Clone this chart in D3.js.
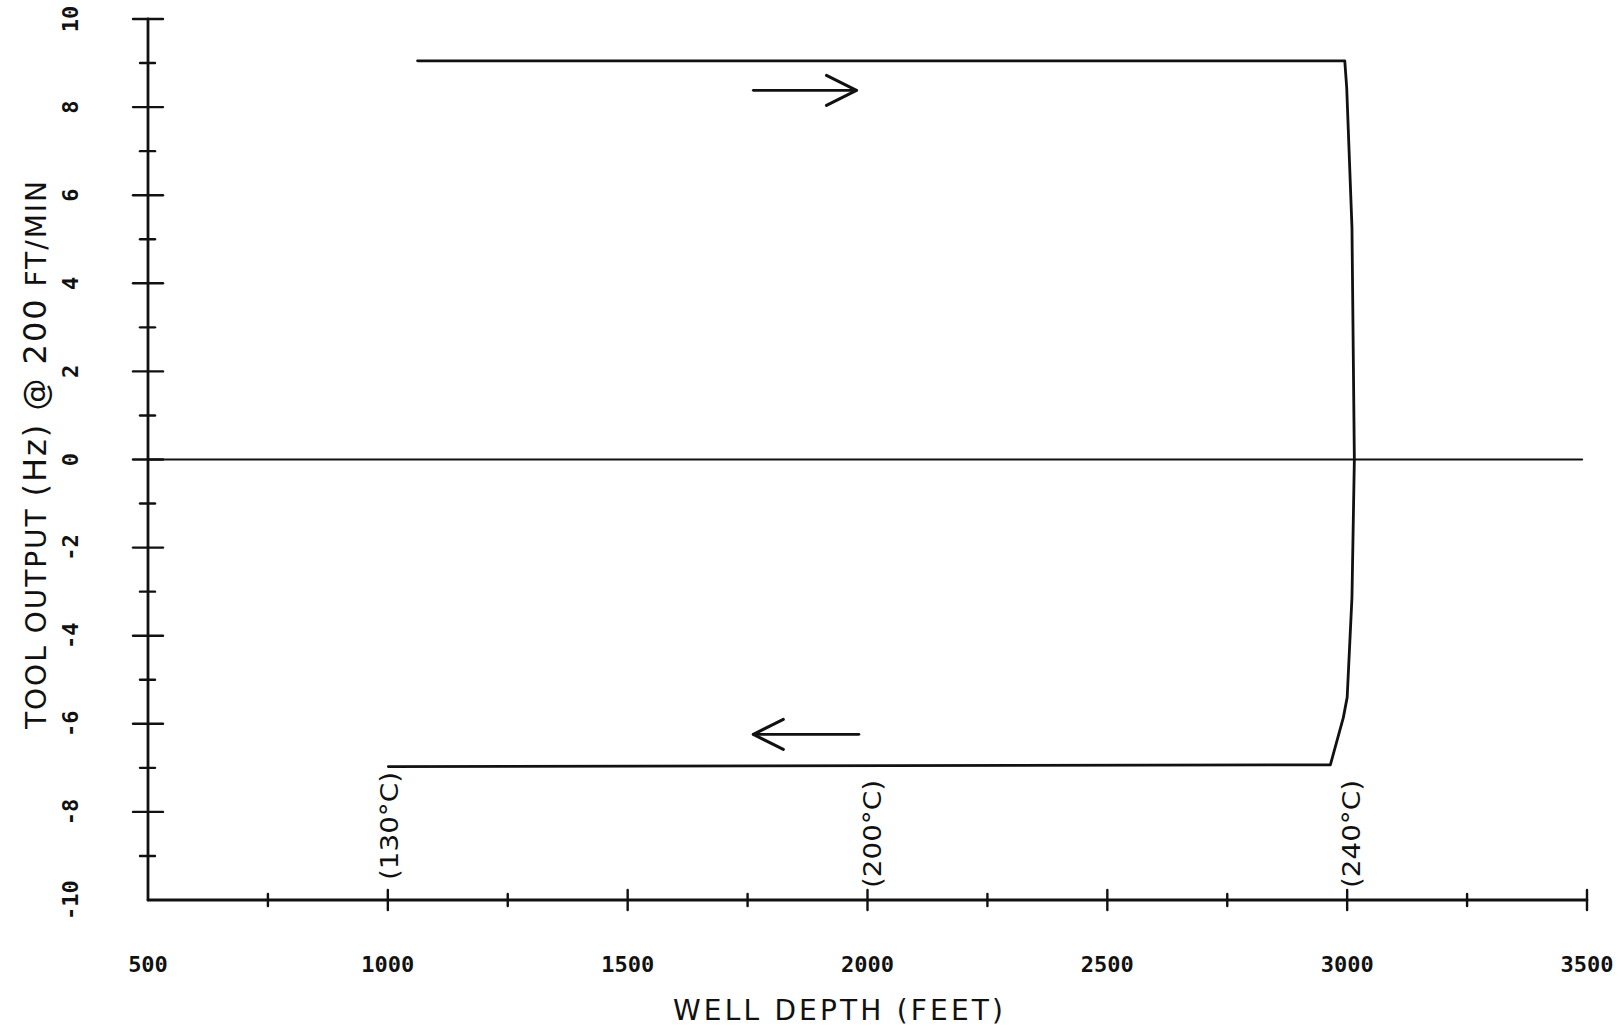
<!DOCTYPE html>
<html>
<head>
<meta charset="utf-8">
<script src="https://cdn.jsdelivr.net/npm/d3@7"></script>
<style>
  body { margin: 0; background: #fff; }
  svg { display: block; }
  .tick-label { font-family: "DejaVu Sans Mono", monospace; font-weight: bold; font-size: 22px; fill: #111; }
  .title { font-family: "DejaVu Sans", sans-serif; font-size: 28px; fill: #111; }
  .temp { font-family: "DejaVu Sans", sans-serif; font-size: 25px; fill: #111; }
</style>
</head>
<body>
<svg id="chart" width="1623" height="1030"></svg>
<script>
// tool response curve, depth (ft) vs output (Hz)
var depth  = [1062, 2995, 2999, 3010, 3015, 3010, 3000, 2992, 2965, 1001]
var output = [9.05, 9.05, 8.45, 5.27, 0.00, -3.13, -5.40, -5.86, -6.93, -6.97]

var xTicks = [500, 1000, 1500, 2000, 2500, 3000, 3500]
var yTicks = [-10, -8, -6, -4, -2, 0, 2, 4, 6, 8, 10]

var tempDepth = [1000, 2000, 3000]
var tempLabel = ["(130°C)", "(200°C)", "(240°C)"]

// direction arrows: [fromDepth, toDepth, output]
var arrows = [[1762, 1977, 8.38], [1982, 1762, -6.24]]

var svg = d3.select("#chart")
svg.append("rect").attr("width", 1623).attr("height", 1030).attr("fill", "#fff")

var x = d3.scaleLinear().domain([500, 3500]).range([148, 1587])
var y = d3.scaleLinear().domain([-10, 10]).range([900, 19])

var g = svg.append("g").attr("stroke", "#111").attr("fill", "none").attr("stroke-linecap", "round")

// axes lines
g.append("line").attr("x1", x(500)).attr("x2", x(3500)).attr("y1", y(-10)).attr("y2", y(-10)).attr("stroke-width", 2.8)
g.append("line").attr("x1", x(500)).attr("x2", x(500)).attr("y1", y(-10)).attr("y2", y(10)).attr("stroke-width", 2.8)

// x ticks, major crossing + minor
var xMinor = d3.range(750, 3500, 500)
g.selectAll(".xmaj").data(xTicks.slice(1)).enter().append("line")
  .attr("x1", d => x(d)).attr("x2", d => x(d))
  .attr("y1", y(-10) - 10).attr("y2", y(-10) + 10).attr("stroke-width", 2.4)
g.selectAll(".xmin").data(xMinor).enter().append("line")
  .attr("x1", d => x(d)).attr("x2", d => x(d))
  .attr("y1", y(-10) - 6).attr("y2", y(-10) + 6).attr("stroke-width", 2.4)

// y ticks
var yMinor = d3.range(-9, 10, 2)
g.selectAll(".ymaj").data(yTicks.slice(1)).enter().append("line")
  .attr("x1", x(500) - 15).attr("x2", x(500) + 15)
  .attr("y1", d => y(d)).attr("y2", d => y(d)).attr("stroke-width", 2.4)
g.selectAll(".ymin").data(yMinor).enter().append("line")
  .attr("x1", x(500) - 8).attr("x2", x(500) + 7)
  .attr("y1", d => y(d)).attr("y2", d => y(d)).attr("stroke-width", 2.4)

// zero line
g.append("line").attr("x1", x(500)).attr("x2", x(3490)).attr("y1", y(0)).attr("y2", y(0)).attr("stroke-width", 1.8)

// curve
var pts = depth.map((d, i) => [d, output[i]])
var line = d3.line().x(d => x(d[0])).y(d => y(d[1]))
g.append("path").attr("d", line(pts)).attr("stroke-width", 2.8).attr("stroke-linejoin", "round")

// arrows
arrows.forEach(function(a){
  var x0 = x(a[0]), x1 = x(a[1]), yy = y(a[2])
  var dir = x1 > x0 ? 1 : -1
  g.append("line").attr("x1", x0).attr("x2", x1).attr("y1", yy).attr("y2", yy).attr("stroke-width", 2.8)
  g.append("path")
    .attr("d", "M" + (x1 - dir * 30) + "," + (yy - 15) + " L" + x1 + "," + yy + " L" + (x1 - dir * 30) + "," + (yy + 15))
    .attr("stroke-width", 3).attr("stroke-linejoin", "round")
})

// tick labels
svg.selectAll(".xl").data(xTicks).enter().append("text")
  .attr("class", "tick-label")
  .attr("x", d => x(d)).attr("y", 972)
  .attr("text-anchor", "middle")
  .text(d => d)

svg.selectAll(".yl").data(yTicks).enter().append("text")
  .attr("class", "tick-label")
  .attr("transform", d => "translate(78," + y(d) + ") rotate(-90)")
  .attr("text-anchor", "middle")
  .text(d => d)

// temperature notes
svg.selectAll(".temp").data(tempDepth).enter().append("text")
  .attr("class", "temp")
  .attr("transform", (d, i) => "translate(" + (x(d) + 13 - (i == 0 ? 3 : 0)) + "," + (i == 0 ? 880 : 888) + ") rotate(-90)")
  .attr("textLength", 108).attr("lengthAdjust", "spacingAndGlyphs")
  .text((d, i) => tempLabel[i])

// axis titles
svg.append("text").attr("class", "title")
  .attr("x", 838).attr("y", 1020).attr("text-anchor", "middle")
  .attr("textLength", 330).attr("lengthAdjust", "spacing")
  .text("WELL DEPTH (FEET)")

var yt = svg.append("text").attr("class", "title")
  .attr("transform", "translate(46,455) rotate(-90)")
  .attr("text-anchor", "middle")
  .attr("textLength", 548).attr("lengthAdjust", "spacing")
yt.append("tspan").text("TOOL OUTPUT ")
yt.append("tspan").style("font-size", "32px").text("(Hz) @ 200")
yt.append("tspan").text(" FT/MIN")
</script>
</body>
</html>
